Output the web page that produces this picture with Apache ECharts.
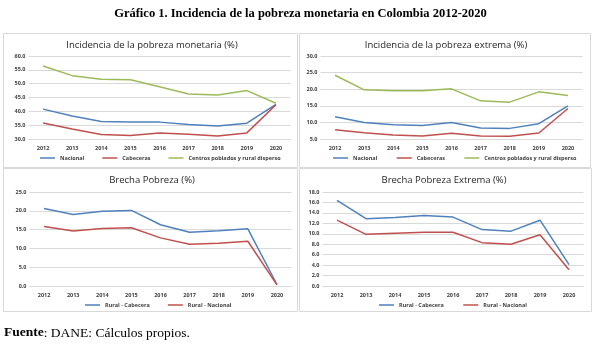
<!DOCTYPE html>
<html><head><meta charset="utf-8">
<script src="https://cdn.jsdelivr.net/npm/echarts@6/dist/echarts.min.js"></script>
<style>html,body{margin:0;padding:0;background:#fff}#c{width:601px;height:347px}</style>
</head><body><div id="c"></div>
<script>
const years = ['2012','2013','2014','2015','2016','2017','2018','2019','2020'];
const monNacional = [40.8, 38.3, 36.3, 36.1, 36.1, 35.2, 34.7, 35.7, 42.5];
const monCabeceras = [35.8, 33.6, 31.6, 31.3, 32.2, 31.7, 31.1, 32.2, 42.4];
const monCentros = [56.4, 52.9, 51.6, 51.4, 48.9, 46.3, 45.9, 47.5, 42.9];
const extNacional = [11.7, 10.0, 9.3, 9.1, 10.0, 8.3, 8.2, 9.6, 15.0];
const extCabeceras = [7.8, 6.9, 6.2, 5.9, 6.7, 5.9, 5.8, 6.8, 14.2];
const extCentros = [24.2, 19.8, 19.5, 19.5, 20.1, 16.5, 16.1, 19.2, 18.1];
const brRuralCab = [20.6, 19.0, 19.9, 20.1, 16.3, 14.3, 14.7, 15.2, 0.4];
const brRuralNac = [15.8, 14.6, 15.3, 15.5, 12.8, 11.1, 11.4, 11.9, 0.3];
const brExtRuralCab = [16.4, 12.9, 13.1, 13.5, 13.2, 10.8, 10.5, 12.6, 4.1];
const brExtRuralNac = [12.6, 9.9, 10.1, 10.3, 10.3, 8.3, 8.0, 9.8, 3.1];

const BLUE = '#4f81bd', RED = '#c0504d', GREEN = '#9bbb59';
const FONT = 'Open Sans';
const grids = [
  {left: 28.5, top: 56, width: 262, height: 83},
  {left: 320.5, top: 56, width: 262, height: 83},
  {left: 29.5, top: 192, width: 262, height: 94},
  {left: 322.5, top: 192, width: 261, height: 94}
];
const yCfg = [
  {min: 30, max: 60, interval: 5},
  {min: 5, max: 30, interval: 5},
  {min: 0, max: 25, interval: 5},
  {min: 0, max: 18, interval: 2}
];
const xAxis = grids.map((g, i) => ({
  type: 'category', gridIndex: i, data: years, boundaryGap: true,
  axisLine: {lineStyle: {color: '#d9d9d9'}}, axisTick: {show: false},
  axisLabel: {fontSize: 5.5, fontWeight: 'bold', color: '#404040', margin: 6, fontFamily: FONT}
}));
const yAxis = yCfg.map((c, i) => ({
  type: 'value', gridIndex: i, min: c.min, max: c.max, interval: c.interval,
  axisLine: {show: false}, axisTick: {show: false},
  splitLine: {lineStyle: {color: '#d9d9d9', width: 1}},
  axisLabel: {fontSize: 5.5, fontWeight: 'bold', color: '#404040', margin: 3, fontFamily: FONT,
    formatter: v => v.toFixed(1)}
}));
function line(name, data, color, idx) {
  return {type: 'line', name, data, xAxisIndex: idx, yAxisIndex: idx, symbol: 'none',
    lineStyle: {color, width: 1.5}, itemStyle: {color}};
}
const series = [
  line('Nacional', monNacional, BLUE, 0),
  line('Cabeceras', monCabeceras, RED, 0),
  line('Centros poblados y rural disperso', monCentros, GREEN, 0),
  line('Nacional ', extNacional, BLUE, 1),
  line('Cabeceras ', extCabeceras, RED, 1),
  line('Centros poblados y rural disperso ', extCentros, GREEN, 1),
  line('Rural - Cabecera', brRuralCab, BLUE, 2),
  line('Rural - Nacional', brRuralNac, RED, 2),
  line('Rural - Cabecera ', brExtRuralCab, BLUE, 3),
  line('Rural - Nacional ', brExtRuralNac, RED, 3)
];
const legendBase = {icon: 'rect', itemWidth: 15, itemHeight: 1.5, itemGap: 18,
  textStyle: {fontSize: 5.5, fontWeight: 'bold', color: '#404040', fontFamily: FONT}, selectedMode: false, padding: 0};
const legend = [
  Object.assign({}, legendBase, {data: ['Nacional','Cabeceras','Centros poblados y rural disperso'], left: 40, top: 155}),
  Object.assign({}, legendBase, {data: ['Nacional ','Cabeceras ','Centros poblados y rural disperso '], left: 333, top: 155}),
  Object.assign({}, legendBase, {data: ['Rural - Cabecera','Rural - Nacional'], left: 85, top: 302}),
  Object.assign({}, legendBase, {data: ['Rural - Cabecera ','Rural - Nacional '], left: 379, top: 302})
];
const tStyle = {fontSize: 9.5, fontWeight: 'normal', color: '#262626', fontFamily: FONT};
const title = [
  {text: 'Gráfico 1. Incidencia de la pobreza monetaria en Colombia 2012-2020', left: 'center', top: 7, padding: 0,
    textStyle: {fontSize: 12.5, fontWeight: 'bold', color: '#000', fontFamily: 'Liberation Serif'}},
  {text: 'Incidencia de la pobreza monetaria (%)', left: 152, textAlign: 'center', top: 40, padding: 0, textStyle: tStyle},
  {text: 'Incidencia de la pobreza extrema (%)', left: 446, textAlign: 'center', top: 40, padding: 0, textStyle: tStyle},
  {text: 'Brecha Pobreza (%)', left: 152, textAlign: 'center', top: 175, padding: 0, textStyle: tStyle},
  {text: 'Brecha Pobreza Extrema (%)', left: 444, textAlign: 'center', top: 175, padding: 0, textStyle: tStyle},
  {text: '{b|Fuente}: DANE: Cálculos propios.', left: 4, top: 326, padding: 0,
    textStyle: {fontSize: 13.5, fontWeight: 'normal', color: '#000', fontFamily: 'Liberation Serif',
      rich: {b: {fontSize: 13.5, fontWeight: 'bold', fontFamily: 'Liberation Serif', color: '#000'}}}}
];
const boxes = [[3,33,294,134],[299,33,291,134],[3,168,294,143],[299,168,292,143]];
const graphic = boxes.map(b => ({type: 'rect', shape: {x: b[0]+0.5, y: b[1]+0.5, width: b[2], height: b[3]},
  style: {fill: null, stroke: '#d9d9d9', lineWidth: 1}, silent: true}));
const chart = echarts.init(document.getElementById('c'), null, {renderer: 'canvas'});
chart.setOption({animation: false, backgroundColor: '#fff', grid: grids, xAxis, yAxis, series, legend, title, graphic});
</script></body></html>
